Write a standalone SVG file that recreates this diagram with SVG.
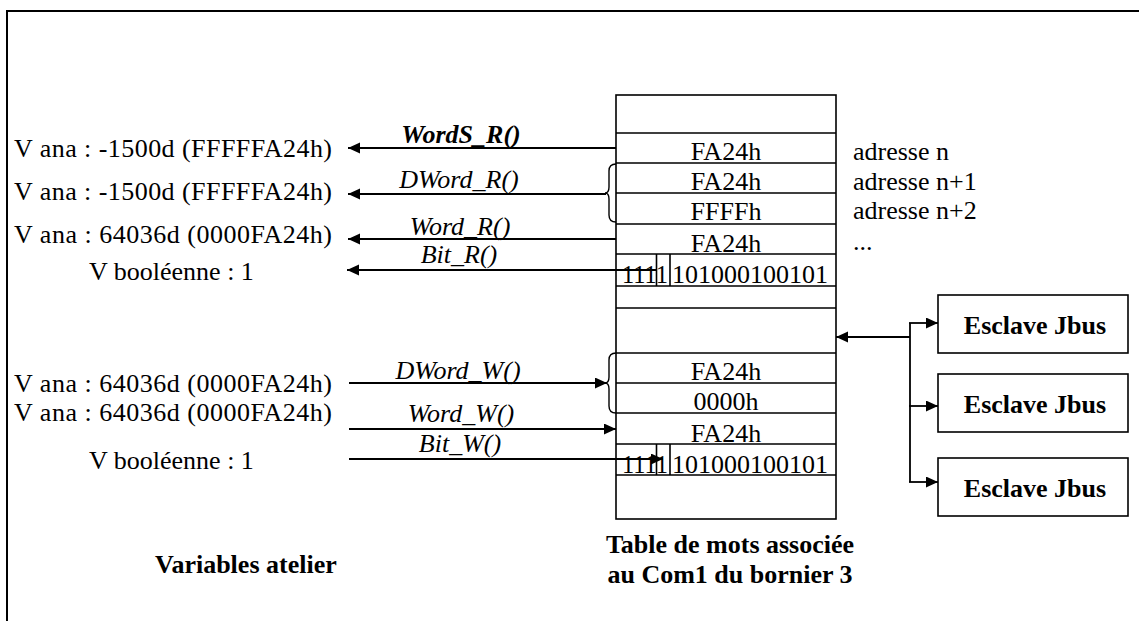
<svg xmlns="http://www.w3.org/2000/svg" width="1139" height="621" viewBox="0 0 1139 621">
  <style>
    text { font-family: "Liberation Serif", "Times New Roman", serif; font-size: 26px; fill: #000; }
    .b { font-weight: bold; }
    .i { font-style: italic; }
    .m { text-anchor: middle; }
    .cell { fill: none; stroke: #000; stroke-width: 1.6; }
    .wire { fill: none; stroke: #000; stroke-width: 1.8; }
    .brace { fill: none; stroke: #000; stroke-width: 1.4; }
  </style>
  <defs>
    <marker id="head" markerUnits="userSpaceOnUse" markerWidth="13" markerHeight="12" refX="12" refY="5.5" orient="auto">
      <path d="M0,0 L12,5.5 L0,11 z" fill="#000"/>
    </marker>
  </defs>

  <rect width="1139" height="621" fill="#fff"/>
  <!-- page frame: left and top edges only -->
  <path d="M7,621 V11 H1139" fill="none" stroke="#000" stroke-width="2"/>

  <!-- workshop variables -->
  <g id="variables">
    <text x="14" y="157" textLength="318" lengthAdjust="spacing">V ana : -1500d (FFFFFA24h)</text>
    <text x="14" y="200" textLength="318" lengthAdjust="spacing">V ana : -1500d (FFFFFA24h)</text>
    <text x="14" y="243" textLength="318" lengthAdjust="spacing">V ana : 64036d (0000FA24h)</text>
    <text x="89" y="280">V booléenne : 1</text>
    <text x="14" y="392" textLength="318" lengthAdjust="spacing">V ana : 64036d (0000FA24h)</text>
    <text x="14" y="421" textLength="318" lengthAdjust="spacing">V ana : 64036d (0000FA24h)</text>
    <text x="89" y="469">V booléenne : 1</text>
    <text class="b" x="155" y="573">Variables atelier</text>
  </g>

  <!-- word table of Com1 -->
  <g id="table">
    <rect class="cell" x="616" y="95" width="220" height="424"/>
    <path class="cell" d="M616,133 H836 M616,163 H836 M616,193 H836 M616,224 H836 M616,254 H836 M616,286 H836 M616,308 H836 M616,353 H836 M616,383 H836 M616,413 H836 M616,444 H836 M616,475 H836"/>
    <path class="cell" d="M656.5,254 V286 M670,254 V286 M656.5,444 V475 M670,444 V475"/>
    <text class="m" x="726" y="160">FA24h</text>
    <text class="m" x="726" y="190">FA24h</text>
    <text class="m" x="726" y="220">FFFFh</text>
    <text class="m" x="726" y="252">FA24h</text>
    <text x="622" y="283" textLength="46" lengthAdjust="spacingAndGlyphs">1111</text>
    <text x="672" y="283">101000100101</text>
    <text class="m" x="726" y="380">FA24h</text>
    <text class="m" x="726" y="410">0000h</text>
    <text class="m" x="726" y="442">FA24h</text>
    <text x="622" y="473" textLength="46" lengthAdjust="spacingAndGlyphs">1111</text>
    <text x="672" y="473">101000100101</text>
    <text class="b m" x="730" y="553">Table de mots associée</text>
    <text class="b m" x="730" y="583">au Com1 du bornier 3</text>
  </g>

  <!-- addresses -->
  <g id="addresses">
    <text x="853" y="160">adresse n</text>
    <text x="853" y="190">adresse n+1</text>
    <text x="853" y="219">adresse n+2</text>
    <text x="853" y="250">...</text>
  </g>

  <!-- Jbus slaves -->
  <g id="slave1">
    <rect class="cell" x="938" y="295" width="190" height="58"/>
    <text class="b m" x="1035" y="334">Esclave Jbus</text>
  </g>
  <g id="slave2">
    <rect class="cell" x="938" y="374" width="190" height="58"/>
    <text class="b m" x="1035" y="413">Esclave Jbus</text>
  </g>
  <g id="slave3">
    <rect class="cell" x="938" y="458" width="190" height="58"/>
    <text class="b m" x="1035" y="497">Esclave Jbus</text>
  </g>

  <g id="connectors">
    <!-- read functions -->
    <line x1="616" y1="148" x2="348" y2="148" class="wire" stroke-width="2.5" marker-end="url(#head)"/>
    <path class="brace" d="M616,164 Q609,164 609,171 V187 Q609,193 605,193 Q609,193 609,199 V215 Q609,222 616,222"/>
    <line x1="606" y1="194" x2="348" y2="194" class="wire" marker-end="url(#head)"/>
    <line x1="616" y1="239" x2="348" y2="239" class="wire" marker-end="url(#head)"/>
    <line x1="656" y1="270" x2="347" y2="270" class="wire" marker-end="url(#head)"/>
    <text class="b i m" x="461" y="143">WordS_R()</text>
    <text class="i m" x="459" y="188">DWord_R()</text>
    <text class="i m" x="460" y="235">Word_R()</text>
    <text class="i m" x="459" y="263">Bit_R()</text>

    <!-- write functions -->
    <path class="brace" d="M616,353 Q609,353 609,360 V377 Q609,383 605,383 Q609,383 609,389 V406 Q609,413 616,413"/>
    <line x1="349" y1="383" x2="607" y2="383" class="wire" marker-end="url(#head)"/>
    <line x1="349" y1="429" x2="616" y2="429" class="wire" marker-end="url(#head)"/>
    <line x1="349" y1="459" x2="663" y2="459" class="wire" marker-end="url(#head)"/>
    <text class="i m" x="458" y="379">DWord_W()</text>
    <text class="i m" x="461" y="422">Word_W()</text>
    <text class="i m" x="460" y="452">Bit_W()</text>

    <!-- Jbus link -->
    <line x1="910" y1="337" x2="836" y2="337" class="wire" marker-end="url(#head)"/>
    <path class="wire" d="M910,323 V482"/>
    <line x1="909" y1="323" x2="938" y2="323" class="wire" marker-end="url(#head)"/>
    <line x1="909" y1="406" x2="938" y2="406" class="wire" marker-end="url(#head)"/>
    <line x1="909" y1="482" x2="938" y2="482" class="wire" marker-end="url(#head)"/>
  </g>
</svg>
